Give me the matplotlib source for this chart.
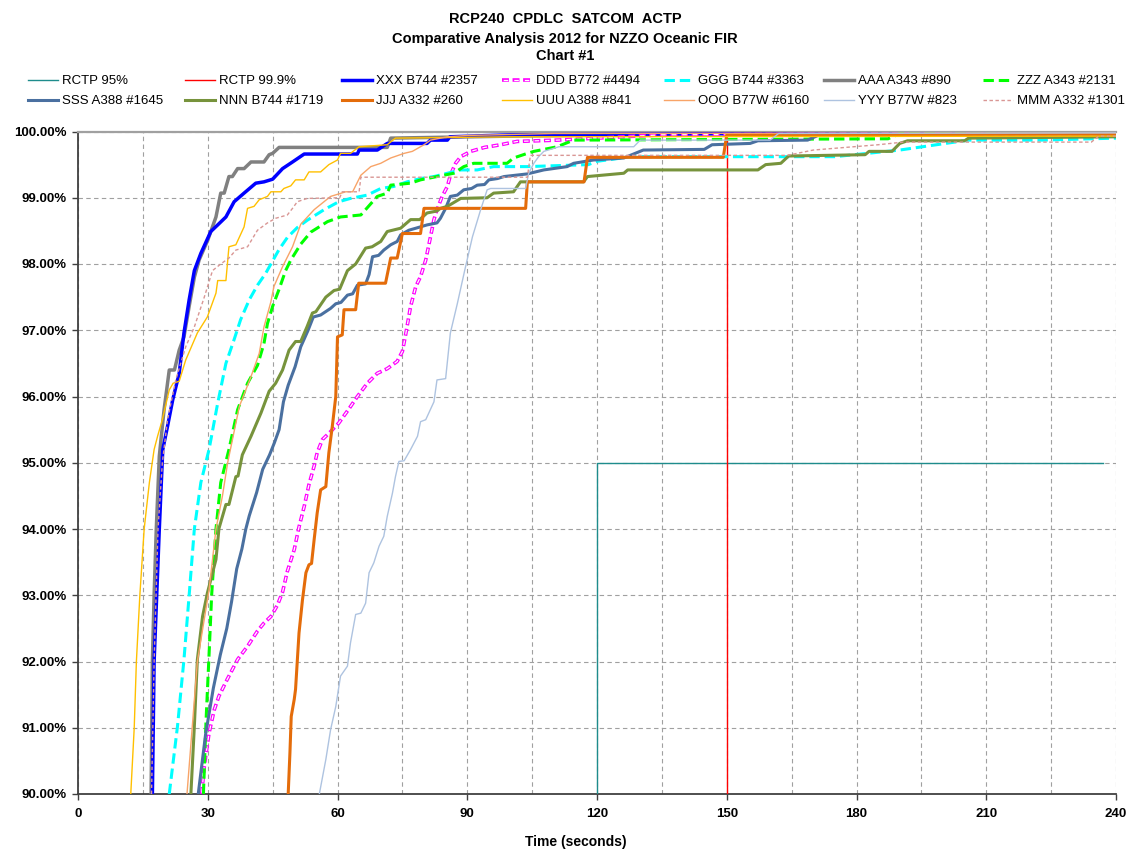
import matplotlib
matplotlib.use("Agg")
import matplotlib.pyplot as plt
from matplotlib.legend_handler import HandlerTuple

plt.rcParams['font.family'] = ['Liberation Sans', 'DejaVu Sans']

# ---------------- data (time in seconds, cumulative percentage) ----------------
rctp95_t = [120, 120, 237]
rctp95_p = [90.0, 95.0, 95.0]

rctp999_t = [150, 150]
rctp999_p = [90.0, 99.9]

xxx_t = [17.2, 17.6, 18.2, 18.8, 19.6, 20.7, 21.9, 23.4, 24.5, 25.7, 26.9, 28.4, 30.7, 32.3, 34.2, 36.1, 38.4,
         41.1, 43.0, 45.0, 47.3, 49.6, 52.3, 64.6, 65.0, 69.2, 71.5, 80.7, 81.5, 85.4, 86.0, 100, 160, 240]
xxx_p = [90.0, 92.0, 93.0, 94.0, 95.2, 95.55, 95.95, 96.35, 96.96, 97.46, 97.9, 98.16, 98.49, 98.59, 98.71, 98.94, 99.07,
         99.22, 99.24, 99.28, 99.44, 99.54, 99.66, 99.66, 99.72, 99.72, 99.82, 99.82, 99.87, 99.87, 99.92, 99.95, 99.97, 99.98]

ddd_t = [28.6, 29.2, 30.3, 31.5, 32.6, 34.5, 36.9, 39.2, 41.5, 43.0, 44.6, 46.1, 47.3, 48.4, 50.0, 51.1, 52.3, 53.4,
         54.6, 55.3, 56.5, 58.4, 60.3, 62.5, 64.6, 66.9, 69.2, 71.5, 73.8, 75.0, 75.8, 76.9, 78.1, 79.2, 80.4, 81.5,
         82.3, 83.0, 84.2, 85.4, 86.1, 87.3, 88.5, 90.8, 94.0, 97.7, 101.5, 110.8, 120, 135, 240]
ddd_p = [90.0, 90.42, 90.92, 91.27, 91.48, 91.73, 92.03, 92.23, 92.46, 92.58, 92.68, 92.85, 93.05, 93.36, 93.69, 94.03,
         94.34, 94.67, 94.95, 95.15, 95.35, 95.47, 95.6, 95.8, 96.0, 96.2, 96.35, 96.42, 96.53, 96.68, 96.95, 97.36,
         97.66, 97.81, 98.06, 98.41, 98.67, 98.82, 99.02, 99.17, 99.34, 99.52, 99.62, 99.7, 99.76, 99.8, 99.85, 99.87,
         99.9, 99.95, 99.97]

ggg_t = [21.1, 23.0, 24.5, 25.7, 26.9, 28.4, 30.3, 32.3, 34.2, 36.1, 37.6, 39.6, 41.5, 43.4, 44.6, 46.5, 48.4, 50.7,
         53.0, 56.9, 60.3, 63.0, 66.9, 70.0, 73.0, 76.1, 79.2, 82.3, 85.4, 88.5, 92.3, 96.1, 100.7, 103.9, 118.0,
         120.0, 128.0, 175.0, 190.0, 205.9, 222.8, 240]
ggg_p = [90.0, 91.02, 92.03, 93.0, 94.0, 94.7, 95.2, 95.9, 96.5, 96.86, 97.16, 97.46, 97.68, 97.86, 98.0, 98.22, 98.4,
         98.55, 98.66, 98.82, 98.94, 98.99, 99.04, 99.14, 99.17, 99.24, 99.29, 99.32, 99.37, 99.42, 99.42, 99.47,
         99.47, 99.47, 99.5, 99.55, 99.62, 99.62, 99.72, 99.87, 99.87, 99.9]

aaa_t = [16.9, 17.2, 17.6, 18.1, 18.8, 19.9, 21.1, 22.3, 23.4, 24.5, 25.7, 26.9, 28.0, 30.0, 31.9, 33.0, 33.8, 34.9,
         35.7, 36.9, 38.4, 40.0, 43.0, 44.2, 45.0, 46.5, 71.5, 72.3, 100, 150, 240]
aaa_p = [90.0, 92.0, 93.0, 94.0, 95.1, 95.8, 96.4, 96.4, 96.7, 96.9, 97.36, 97.8, 98.06, 98.36, 98.71, 99.07, 99.07,
         99.32, 99.32, 99.44, 99.44, 99.54, 99.54, 99.65, 99.67, 99.76, 99.76, 99.9, 99.93, 99.97, 99.98]

zzz_t = [29.0, 29.6, 30.3, 30.9, 31.9, 33.0, 34.9, 36.9, 39.2, 41.5, 43.0, 43.8, 45.0, 46.5, 48.0, 49.2, 51.5, 53.8,
         57.7, 60.7, 65.4, 69.2, 71.5, 72.3, 76.9, 79.2, 83.0, 86.9, 89.2, 91.5, 99.2, 100.7, 103.9, 105.4, 110.8,
         114.6, 187.3, 190, 240]
zzz_p = [90.0, 91.1, 92.1, 93.0, 94.0, 94.7, 95.2, 95.8, 96.2, 96.47, 96.8, 97.1, 97.36, 97.62, 97.9, 98.06, 98.3,
         98.48, 98.64, 98.71, 98.74, 99.02, 99.07, 99.19, 99.22, 99.27, 99.32, 99.37, 99.47, 99.52, 99.52, 99.6,
         99.67, 99.7, 99.77, 99.87, 99.89, 99.97, 99.98]

sss_t = [27.8, 29.5, 31.3, 32.9, 34.4, 35.5, 36.7, 37.9, 38.8, 39.6, 41.3, 42.7, 44.3, 45.4, 46.5, 47.5, 48.6, 50.2,
         51.5, 53.2, 54.4, 56.1, 58.4, 59.6, 60.8, 62.3, 63.5, 64.6, 66.5, 67.3, 68.1, 69.5, 70.7, 72.3, 73.8, 74.6,
         76.5, 78.1, 80.7, 83.0, 83.8, 85.0, 86.1, 87.7, 89.2, 91.0, 92.3, 94.0, 95.0, 97.0, 98.5, 103.9, 107.7,
         113.1, 114.6, 119.2, 126.2, 130.7, 144.8, 146.6, 155.4, 157.2, 168.7, 171.4, 240]
sss_p = [90.0, 90.9, 91.6, 92.1, 92.5, 92.9, 93.4, 93.7, 94.0, 94.2, 94.55, 94.9, 95.12, 95.3, 95.5, 95.92, 96.17,
         96.45, 96.75, 97.0, 97.2, 97.23, 97.33, 97.4, 97.42, 97.53, 97.55, 97.68, 97.7, 97.84, 98.11, 98.13, 98.21,
         98.29, 98.34, 98.44, 98.51, 98.54, 98.59, 98.62, 98.69, 98.84, 99.02, 99.04, 99.12, 99.14, 99.19, 99.2,
         99.27, 99.29, 99.32, 99.36, 99.42, 99.47, 99.52, 99.57, 99.6, 99.72, 99.73, 99.8, 99.82, 99.86, 99.87,
         99.95, 99.97]

nnn_t = [26.1, 26.9, 27.6, 28.8, 29.9, 31.9, 32.6, 34.2, 34.9, 36.5, 37.0, 38.0, 40.0, 42.3, 44.2, 45.7, 47.3, 48.8,
         50.3, 51.5, 53.0, 54.2, 55.0, 57.3, 59.2, 60.5, 62.3, 64.2, 66.5, 68.0, 70.0, 71.5, 74.6, 76.9, 79.0, 80.7,
         83.0, 83.8, 85.4, 88.5, 94.6, 96.1, 100.7, 102.3, 116.9, 117.8, 126.2, 127.1, 157.2, 159.0, 162.5, 164.3,
         182.0, 182.9, 188.2, 190.0, 191.8, 205.0, 205.9, 240]
nnn_p = [90.0, 91.02, 92.03, 92.68, 93.03, 93.54, 94.01, 94.37, 94.37, 94.79, 94.8, 95.12, 95.4, 95.75, 96.08, 96.2,
         96.4, 96.7, 96.83, 96.83, 97.06, 97.26, 97.28, 97.5, 97.6, 97.62, 97.9, 98.0, 98.24, 98.26, 98.34, 98.49,
         98.54, 98.67, 98.67, 98.77, 98.8, 98.84, 98.87, 98.99, 99.0, 99.07, 99.09, 99.24, 99.24, 99.32, 99.37,
         99.42, 99.42, 99.5, 99.52, 99.63, 99.65, 99.7, 99.7, 99.82, 99.86, 99.86, 99.9, 99.92]

jjj_t = [48.6, 49.0, 49.3, 50.0, 50.3, 51.1, 51.9, 52.7, 53.4, 54.0, 54.6, 55.3, 56.1, 57.3, 58.0, 58.8, 59.6, 60.0,
         61.1, 61.5, 64.2, 64.9, 71.1, 72.3, 73.8, 75.0, 79.2, 80.0, 103.5, 103.9, 117.0, 117.8, 149.2, 150.0, 240]
jjj_p = [90.0, 90.62, 91.17, 91.43, 91.58, 92.43, 92.93, 93.34, 93.46, 93.48, 93.84, 94.24, 94.59, 94.64, 95.15,
         95.55, 96.0, 96.9, 96.93, 97.31, 97.31, 97.71, 97.71, 98.09, 98.09, 98.46, 98.46, 98.84, 98.84, 99.24,
         99.24, 99.61, 99.61, 99.95, 99.96]

uuu_t = [12.2, 13.0, 13.5, 14.3, 15.3, 16.5, 17.6, 18.4, 19.5, 21.1, 22.0, 23.4, 24.9, 27.6, 29.9, 31.9, 32.3, 34.2,
         34.9, 36.5, 38.4, 39.2, 40.7, 41.9, 43.8, 44.6, 46.9, 47.6, 49.2, 50.3, 52.3, 53.4, 56.1, 58.0, 60.0, 60.7,
         63.0, 65.0, 71.5, 73.4, 100, 240]
uuu_p = [90.0, 91.0, 92.0, 93.0, 94.0, 94.7, 95.2, 95.4, 95.65, 96.1, 96.2, 96.23, 96.55, 96.96, 97.2, 97.56, 97.75,
         97.75, 98.26, 98.29, 98.56, 98.84, 98.87, 98.97, 99.02, 99.09, 99.09, 99.14, 99.18, 99.27, 99.27, 99.39,
         99.39, 99.5, 99.57, 99.67, 99.67, 99.77, 99.8, 99.9, 99.92, 99.93]

ooo_t = [25.2, 27.6, 30.3, 31.9, 33.4, 34.6, 37.3, 40.0, 41.9, 43.0, 44.6, 45.3, 47.3, 49.6, 51.5, 54.6, 58.4, 61.9,
         63.5, 65.4, 67.7, 70.0, 72.3, 75.4, 77.3, 80.0, 81.5, 85.4, 90, 110, 240]
ooo_p = [90.0, 92.0, 93.08, 94.0, 94.5, 95.0, 95.85, 96.3, 96.65, 97.05, 97.43, 97.66, 97.96, 98.26, 98.6, 98.82,
         99.02, 99.09, 99.09, 99.34, 99.47, 99.52, 99.6, 99.67, 99.7, 99.8, 99.87, 99.92, 99.94, 99.97, 99.98]

yyy_t = [55.8, 57.3, 58.4, 59.6, 60.7, 62.3, 63.0, 64.2, 65.4, 66.5, 67.3, 68.4, 69.6, 70.7, 71.5, 72.7, 73.4, 74.2,
         75.4, 76.9, 78.5, 79.2, 80.4, 82.3, 83.0, 85.0, 86.1, 87.7, 89.4, 91.2, 93.1, 94.6, 95.4, 103.5, 104.2,
         105.4, 106.5, 107.7, 111.2, 128.5, 130.0, 160, 162, 240]
yyy_p = [90.0, 90.52, 90.97, 91.32, 91.78, 91.93, 92.28, 92.71, 92.73, 92.88, 93.34, 93.49, 93.74, 93.89, 94.19,
         94.54, 94.79, 95.02, 95.03, 95.2, 95.4, 95.62, 95.65, 95.92, 96.25, 96.27, 96.96, 97.4, 97.9, 98.41, 98.82,
         99.12, 99.14, 99.14, 99.37, 99.52, 99.62, 99.7, 99.77, 99.77, 99.87, 99.87, 99.97, 99.98]

mmm_t = [17.0, 17.6, 18.5, 19.5, 20.7, 22.6, 24.9, 26.9, 29.2, 31.1, 33.0, 34.9, 36.5, 39.2, 41.5, 43.8, 45.7, 48.4,
         49.6, 50.7, 53.0, 60.5, 61.1, 65.0, 65.4, 103.9, 104.6, 164.0, 170.0, 185.0, 190.8, 234.3, 236.0, 240]
mmm_p = [90.0, 92.0, 94.0, 95.0, 95.65, 96.25, 96.75, 97.05, 97.5, 97.9, 98.0, 98.09, 98.21, 98.26, 98.51, 98.62,
         98.69, 98.74, 98.84, 98.94, 98.99, 99.0, 99.09, 99.09, 99.31, 99.31, 99.64, 99.64, 99.72, 99.8, 99.84,
         99.84, 99.93, 99.93]

x_ticks = [0, 30, 60, 90, 120, 150, 180, 210, 240]
y_ticks = [90, 91, 92, 93, 94, 95, 96, 97, 98, 99, 100]
title_lines = ["RCP240  CPDLC  SATCOM  ACTP", "Comparative Analysis 2012 for NZZO Oceanic FIR", "Chart #1"]
x_label = "Time (seconds)"

# ---------------- figure ----------------
fig = plt.figure(figsize=(11.3, 8.5), dpi=100)
ax = fig.add_axes([78 / 1130, 1 - 794 / 850, (1116 - 78) / 1130, (794 - 131.5) / 850])

thick = 2.2
thin = 1.0
z = 3
h = {}
h['rctp95'], = ax.plot(rctp95_t, rctp95_p, color='#1E8C8C', lw=thin, label='RCTP 95%', zorder=z)
h['rctp999'], = ax.plot(rctp999_t, rctp999_p, color='#FF0000', lw=thin, label='RCTP 99.9%', zorder=z + 0.1)
h['xxx'], = ax.plot(xxx_t, xxx_p, color='#0000FF', lw=thick + 0.3, label='XXX B744 #2357', zorder=z + 0.2)
# DDD: magenta "double" dotted line
lw_m, lw_w = 2.6, 0.9
on, off, m = 5.0, 2.6, (lw_m - lw_w) / 2
ddd_m, = ax.plot(ddd_t, ddd_p, color='#FF00FF', lw=lw_m, zorder=z + 0.3,
                 linestyle=(0, (on / lw_m, off / lw_m)))
ddd_w, = ax.plot(ddd_t, ddd_p, color='white', lw=lw_w, zorder=z + 0.31,
                 linestyle=((on + off - m) / lw_w, ((on - 2 * m) / lw_w, (off + 2 * m) / lw_w)))
h['ddd'] = (ddd_m, ddd_w)
h['ggg'], = ax.plot(ggg_t, ggg_p, color='#00FFFF', lw=thick, linestyle=(0, (3.4, 1.6)),
                    label='GGG B744 #3363', zorder=z + 0.4)
h['aaa'], = ax.plot(aaa_t, aaa_p, color='#808080', lw=thick + 0.3, label='AAA A343 #890', zorder=z + 0.15)
h['zzz'], = ax.plot(zzz_t, zzz_p, color='#00FF00', lw=thick, linestyle=(0, (3.4, 1.6)),
                    label='ZZZ A343 #2131', zorder=z + 0.6)
h['sss'], = ax.plot(sss_t, sss_p, color='#4A70A0', lw=thick, label='SSS A388 #1645', zorder=z + 0.7)
h['nnn'], = ax.plot(nnn_t, nnn_p, color='#77933C', lw=thick, label='NNN B744 #1719', zorder=z + 0.8)
h['jjj'], = ax.plot(jjj_t, jjj_p, color='#E46C0A', lw=thick, label='JJJ A332 #260', zorder=z + 0.9)
h['uuu'], = ax.plot(uuu_t, uuu_p, color='#FFC000', lw=thin, label='UUU A388 #841', zorder=z + 1.0)
h['ooo'], = ax.plot(ooo_t, ooo_p, color='#F8A468', lw=thin, label='OOO B77W #6160', zorder=z + 1.1)
h['yyy'], = ax.plot(yyy_t, yyy_p, color='#AEC3E0', lw=thin, label='YYY B77W #823', zorder=z + 1.2)
h['mmm'], = ax.plot(mmm_t, mmm_p, color='#D99694', lw=thin, linestyle=(0, (2.5, 1.8)),
                    label='MMM A332 #1301', zorder=z + 1.3)

ax.set_xlim(0, 240)
ax.set_ylim(90, 100)
ax.set_xticks(x_ticks)
ax.set_xticks([15 + 30 * i for i in range(8)], minor=True)
ax.set_yticks(y_ticks)
ax.set_xticklabels([str(v) for v in x_ticks], fontsize=9.5, fontweight='bold')
ax.set_yticklabels([f"{v:.2f}%" for v in y_ticks], fontsize=9.5, fontweight='bold')
ax.tick_params(axis='x', which='major', direction='out', length=4, width=1, pad=6, color='#404040')
ax.tick_params(axis='x', which='minor', length=0)
ax.tick_params(axis='y', which='major', direction='out', length=4, width=1, pad=4, color='#404040')
ax.grid(True, which='both', axis='x', color='#A0A0A0', lw=0.8, linestyle=(0, (4, 3)))
ax.grid(True, which='major', axis='y', color='#A0A0A0', lw=0.8, linestyle=(0, (4, 3)))
ax.set_axisbelow(True)
for s in ['left', 'bottom']:
    ax.spines[s].set_color('#404040')
    ax.spines[s].set_linewidth(1.3)
ax.spines['top'].set_color('#A0A0A0')
ax.spines['top'].set_linewidth(1.6)
ax.spines['right'].set_visible(False)

# titles
for i, (line, ypx) in enumerate(zip(title_lines, [19, 38.5, 56.5])):
    fig.text(565 / 1130, 1 - ypx / 850, line, ha='center', va='center', fontsize=10.5, fontweight='bold')
fig.text(576 / 1130, 1 - 842 / 850, x_label, ha='center', va='center', fontsize=10, fontweight='bold')

# legend: 7 columns x 2 rows
col_keys = [('rctp95', 'sss'), ('rctp999', 'nnn'), ('xxx', 'jjj'), ('ddd', 'uuu'),
            ('ggg', 'ooo'), ('aaa', 'yyy'), ('zzz', 'mmm')]
labels = {'rctp95': 'RCTP 95%', 'rctp999': 'RCTP 99.9%', 'xxx': 'XXX B744 #2357', 'ddd': 'DDD B772 #4494',
          'ggg': 'GGG B744 #3363', 'aaa': 'AAA A343 #890', 'zzz': 'ZZZ A343 #2131', 'sss': 'SSS A388 #1645',
          'nnn': 'NNN B744 #1719', 'jjj': 'JJJ A332 #260', 'uuu': 'UUU A388 #841', 'ooo': 'OOO B77W #6160',
          'yyy': 'YYY B77W #823', 'mmm': 'MMM A332 #1301'}
col_x = [28, 185, 342, 502, 664, 824, 983]
for cx, keys in zip(col_x, col_keys):
    fig.legend([h[k] for k in keys], [labels[k] for k in keys], loc='upper left',
               bbox_to_anchor=(cx / 1130, 1 - 75 / 850), frameon=False, fontsize=9.5,
               handlelength=2.3, handletextpad=0.3, borderpad=0, borderaxespad=0, labelspacing=0.6,
               handler_map={tuple: HandlerTuple(ndivide=1)})

fig.savefig('out.png', dpi=100)
